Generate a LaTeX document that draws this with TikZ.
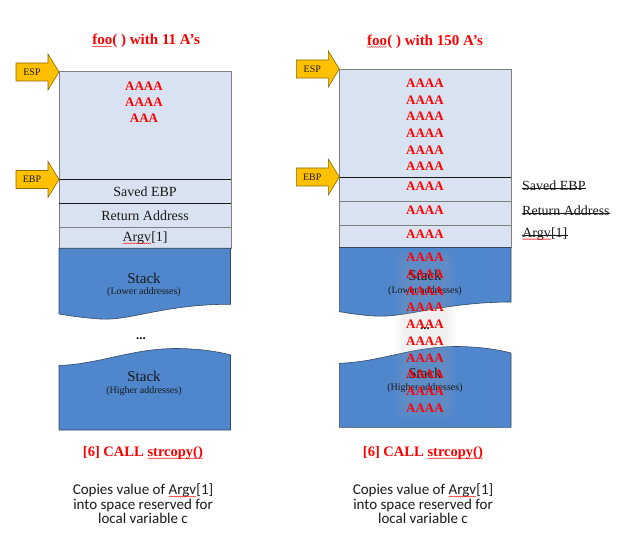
\documentclass[tikz,border=0pt]{standalone}
\usepackage{fontspec}
\setmainfont{Liberation Serif}
\newfontfamily\bodyfont{Carlito}
\usetikzlibrary{decorations.pathmorphing}

\definecolor{cellfill}{HTML}{D9E2F0}
\definecolor{cellline}{HTML}{7F7F7F}
\definecolor{stackfill}{HTML}{4F86CC}
\definecolor{stackline}{HTML}{34485F}
\definecolor{ptrfill}{HTML}{FFC000}
\definecolor{ptredge}{HTML}{8A6A00}
\definecolor{alarm}{HTML}{FF0000}
\definecolor{ink}{HTML}{1A1A1A}

% word with a wavy spelling underline
\newcommand\spell[1]{\tikz[baseline=(w.base)]{\node[draw=none,fill=none,minimum width=0pt,minimum height=0pt,inner sep=0pt,outer sep=0pt,anchor=base](w){#1};\draw[red,line width=0.35pt,decorate,decoration={snake,amplitude=0.45pt,segment length=2pt}]([yshift=-1.8pt]w.base west)--([yshift=-1.8pt]w.base east);}}

% yellow block arrow pointing right, tip at (#1,#2)
\newcommand\pointer[4]{%
  \draw[ptr] (#1-43,#2-9) -- (#1-11,#2-9) -- (#1-11,#2-18) -- (#1,#2)
    -- (#1-11,#2+18) -- (#1-11,#2+9) -- (#1-43,#2+9) -- cycle;
  \node[ptrlabel] (#3) at (#1-27,#2) {#4};}

\begin{document}
\begin{tikzpicture}[x=1pt,y=-1pt,
  cell/.style={draw=cellline, line width=0.6pt, fill=cellfill, anchor=north west,
    inner sep=0pt, minimum width=171.5pt, text=ink, font=\fontsize{14}{16}\selectfont},
  fill text/.style={text=alarm, font=\bfseries\fontsize{13}{15}\selectfont, inner sep=0pt},
  title/.style={text=alarm, font=\bfseries\fontsize{15}{17}\selectfont},
  ptr/.style={fill=ptrfill, draw=ptredge, line width=0.6pt, line join=miter},
  ptrlabel/.style={text=ink, font=\fontsize{10}{12}\selectfont, inner sep=0pt},
  stack/.style={fill=stackfill, draw=stackline, line width=0.6pt},
  stacktitle/.style={text=ink, font=\fontsize{15}{17}\selectfont, inner sep=0pt},
  stacksub/.style={text=ink, font=\fontsize{10}{12}\selectfont, inner sep=0pt},
  dots/.style={text=ink, font=\bfseries\fontsize{13}{15}\selectfont, inner sep=0pt},
  call/.style={text=alarm, font=\bfseries\fontsize{14.5}{17}\selectfont},
  note/.style={text=ink, align=center, font=\bodyfont\fontsize{15}{14.6}\selectfont},
  gone/.style={text=ink, anchor=west, inner sep=0pt, font=\fontsize{14}{16}\selectfont},
  strike/.style={draw=ink, line width=0.6pt},
  halo/.style={fill=gray!60, opacity=0.035, rounded corners=6pt}]
\useasboundingbox (0,0) rectangle (627,548);

% ---------------- left frame: 11 A's ----------------
\node[title] (titleL) at (146,41) {\spell{foo}( ) with 11 A’s};

\node[cell, minimum height=108pt] (Ltop) at (59,71.5) {};
\node[cell, minimum height=23.5pt] (Lsaved) at (59,179.5) {Saved EBP};
\node[cell, minimum height=24.3pt] (Lret) at (59,203) {Return Address};
\node[cell, minimum height=21pt] (Largv) at (59,227.3) {\spell{Argv}[1]};
\draw[ink, line width=0.8pt] (Lsaved.north west) -- (Lsaved.north east);
\draw[ink, line width=0.8pt] (Lret.north west) -- (Lret.north east);

\node[fill text] (La1) at (144,86) {AAAA};
\node[fill text] (La2) at (144,102) {AAAA};
\node[fill text] (La3) at (144,118.5) {AAA};

\pointer{59}{72}{espL}{ESP}
\pointer{59}{179.5}{ebpL}{EBP}

\draw[stack] (59,248.3) -- (230.5,248.3) -- (230.5,304.3)
  .. controls (165,304) and (130,321) .. (100,319)
  .. controls (80,317.5) and (68,315.5) .. (59,314) -- cycle;
\node[stacktitle] (LlowT) at (144,278) {Stack};
\node[stacksub] (LlowS) at (144,292.5) {(Lower addresses)};

\node[dots] (Ldots) at (141,339) {...};

\draw[stack] (59,430) -- (59,365.5)
  .. controls (100,364) and (130,349) .. (175,348.5)
  .. controls (200,348.5) and (220,352) .. (230.5,355) -- (230.5,430) -- cycle;
\node[stacktitle] (LhighT) at (144,376) {Stack};
\node[stacksub] (LhighS) at (144,391) {(Higher addresses)};

\node[call] (callL) at (143,453) {[6] CALL \spell{strcopy()}};
\node[note] (noteL) at (143,504) {Copies value of \spell{Argv}[1]\\into space reserved for\\local variable c};

% ---------------- right frame: 150 A's ----------------
\node[title] (titleR) at (425,41.5) {\spell{foo}( ) with 150 A’s};

\node[cell, minimum height=108pt] (Rtop) at (339.3,69.3) {};
\node[cell, minimum height=23.7pt] (Rsaved) at (339.3,177.3) {};
\node[cell, minimum height=24pt] (Rret) at (339.3,201) {};
\node[cell, minimum height=22.5pt] (Rargv) at (339.3,225) {};
\draw[ink, line width=0.8pt] (Rsaved.north west) -- (Rsaved.north east);

\foreach \y [count=\i] in {83.3,100,116.7,133.3,150,166.7,186.7,210.7,234}
  \node[fill text] (Ra\i) at (425,\y) {AAAA};

\pointer{339.3}{69}{espR}{ESP}
\pointer{339.3}{177}{ebpR}{EBP}

\node[gone] (goneSaved) at (522,186) {Saved EBP};
\node[gone] (goneRet) at (522,210.7) {Return Address};
\node[gone] (goneArgv) at (522,234) {\spell{Argv}[1]};
\foreach \n in {goneSaved,goneRet,goneArgv}
  \draw[strike] (\n.mid west) -- (\n.mid east);

\draw[stack] (339.3,247.5) -- (511,247.5) -- (511,302)
  .. controls (445,302) and (405,318) .. (375,316)
  .. controls (358,315) and (348,313) .. (339.3,311.7) -- cycle;
\draw[stack] (339.3,427.3) -- (339.3,363.3)
  .. controls (380,362) and (410,347) .. (455,346.5)
  .. controls (480,346.5) and (500,350) .. (511,353) -- (511,427.3) -- cycle;

% soft glow behind the overflowing column
\foreach \d in {0,2,...,10}
  \fill[halo] (394+\d,250+\d) rectangle (456-\d,420-\d);

\node[stacktitle] (RlowT) at (425,275) {Stack};
\node[stacksub] (RlowS) at (425,291) {(Lower addresses)};
\node[dots] (Rdots) at (425,329) {...};
\node[stacktitle] (RhighT) at (425,373) {Stack};
\node[stacksub] (RhighS) at (425,388.5) {(Higher addresses)};

\foreach \y [count=\i] in {257.3,274.3,291,307.7,324.5,341.3,358,374.7,391.4,408.2}
  \node[fill text] (Rs\i) at (425,\y) {AAAA};

\node[call] (callR) at (423,453) {[6] CALL \spell{strcopy()}};
\node[note] (noteR) at (423,504) {Copies value of \spell{Argv}[1]\\into space reserved for\\local variable c};
\end{tikzpicture}
\end{document}
